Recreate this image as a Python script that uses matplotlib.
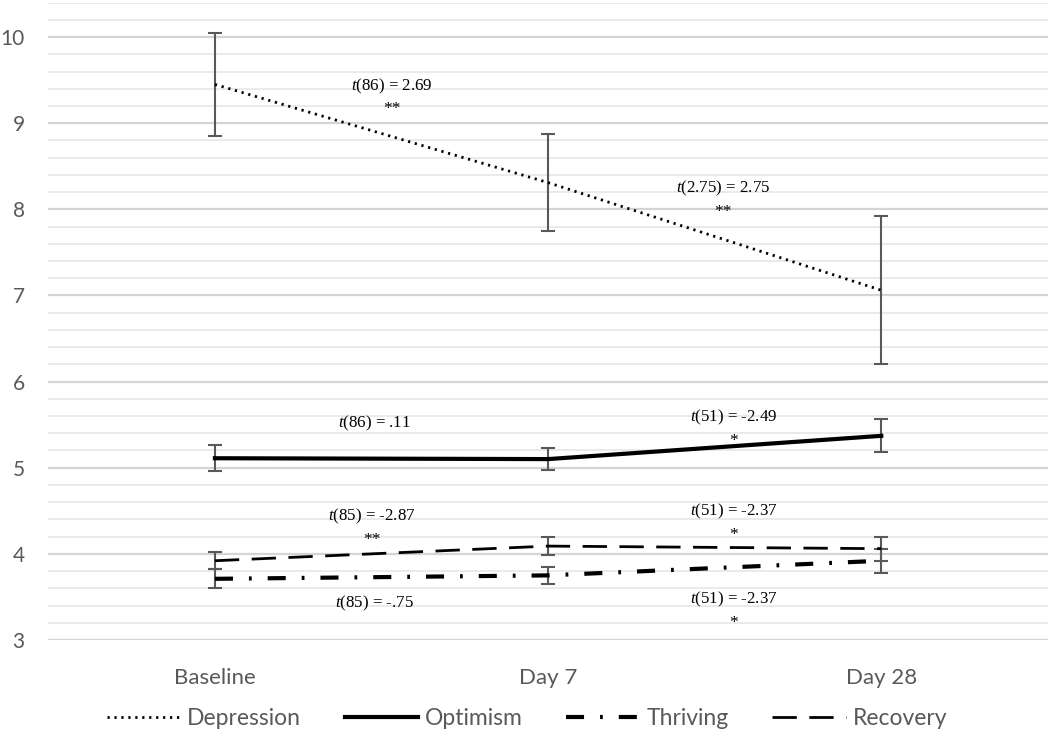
import matplotlib
matplotlib.use("Agg")
import matplotlib.pyplot as plt
from matplotlib.ticker import MultipleLocator

# data
timepoints = ["Baseline", "Day 7", "Day 28"]
depression = [9.45, 8.31, 7.06]
depression_err = [0.60, 0.56, 0.86]
optimism = [5.11, 5.10, 5.37]
optimism_err = [0.15, 0.13, 0.19]
thriving = [3.71, 3.75, 3.92]
thriving_err = [0.11, 0.10, 0.14]
recovery = [3.92, 4.09, 4.06]
recovery_err = [0.10, 0.10, 0.14]

stat_labels = ["t(86) = 2.69", "t(2.75) = 2.75", "t(86) = .11", "t(51) = -2.49",
               "t(85) = -2.87", "t(51) = -2.37", "t(85) = -.75", "t(51) = -2.37"]
stat_stars = ["**", "**", "", "*", "**", "*", "", "*"]
# where each label sits (x in category units, y in data units)
stat_pos = [(0.53, 9.43), (1.524, 8.24), (0.48, 5.52), (1.557, 5.585),
            (0.47, 4.43), (1.557, 4.49), (0.48, 3.43), (1.557, 3.47)]

plt.rcParams['lines.scale_dashes'] = False
plt.rcParams['mathtext.fontset'] = 'custom'
plt.rcParams['mathtext.it'] = 'Liberation Serif:italic'
plt.rcParams['mathtext.rm'] = 'Liberation Serif'

gray = '#595959'
fig = plt.figure(figsize=(10.5, 7.42), dpi=100)
ax = fig.add_axes([0.046, 0.1375, 0.952, 0.859])

x = range(len(timepoints))
series = [
    ("Depression", depression, depression_err, dict(lw=2.0, linestyle=(0, (1.6, 3.4)))),
    ("Optimism", optimism, optimism_err, dict(lw=3.0, linestyle='-')),
    ("Thriving", thriving, thriving_err, dict(lw=3.0, linestyle=(0, (13, 11.5, 2, 11.5)))),
    ("Recovery", recovery, recovery_err, dict(lw=2.0, linestyle=(0, (17.5, 9)))),
]
for name, vals, err, style in series:
    ax.errorbar(x, vals, yerr=err, fmt='none', ecolor=gray, elinewidth=1.5,
                capsize=5, capthick=1.5, zorder=2)
    ax.plot(x, vals, color='black', label=name, zorder=3, **style)

for lab, star, (px, py) in zip(stat_labels, stat_stars, stat_pos):
    t = lab.replace("t(", r"$\mathit{t}$(", 1)
    ax.text(px, py, t, ha='center', va='center', fontsize=12.2,
            family='Liberation Serif', zorder=4)
    if star:
        ax.text(px, py - 0.27, star, ha='center', va='center', fontsize=12.5,
                family='Liberation Serif', zorder=4)

ax.set_xlim(-0.5, 2.5)
ax.set_ylim(3, 10.4)
ax.set_xticks(list(x))
ax.set_xticklabels(timepoints)
ax.yaxis.set_major_locator(MultipleLocator(1))
ax.yaxis.set_minor_locator(MultipleLocator(0.2))
ax.set_yticks(range(3, 11))
ax.grid(which='major', axis='y', color='#d4d4d4', lw=1.6, zorder=0)
ax.grid(which='minor', axis='y', color='#e6e6e6', lw=1.2, zorder=0)
ax.tick_params(axis='both', which='both', length=0, labelsize=16, labelcolor=gray)
ax.tick_params(axis='x', pad=20)
ax.tick_params(axis='y', pad=17, labelsize=15)
for lbl in ax.get_xticklabels() + ax.get_yticklabels():
    lbl.set_family('Lato')
for s in ax.spines.values():
    s.set_visible(False)

leg = fig.legend(loc='center', bbox_to_anchor=(0.502, 0.032), ncol=4, frameon=False,
                 handlelength=3.2, handletextpad=0.3, columnspacing=1.9,
                 prop={'family': 'Lato', 'size': 16.5})
for txt in leg.get_texts():
    txt.set_color(gray)

fig.savefig("out.png", dpi=100)
